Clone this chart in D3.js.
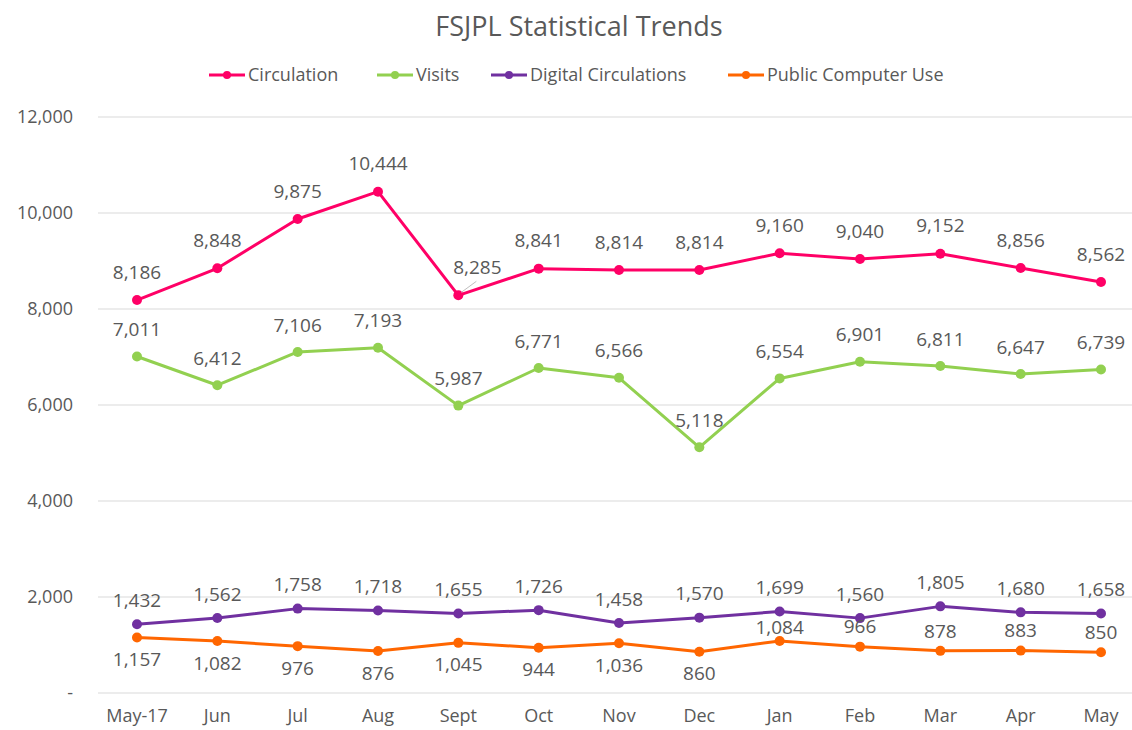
<!DOCTYPE html>
<html>
<head>
<meta charset="utf-8">
<script src="https://cdn.jsdelivr.net/npm/d3@7"></script>
<style>
  body { margin: 0; background: #fff; }
  text { font-family: "Open Sans", "Noto Sans", sans-serif; fill: #595959; }
</style>
</head>
<body>
<script>
// 資料
const months = ["May-17", "Jun", "Jul", "Aug", "Sept", "Oct", "Nov", "Dec", "Jan", "Feb", "Mar", "Apr", "May"];
const circulation = [8186, 8848, 9875, 10444, 8285, 8841, 8814, 8814, 9160, 9040, 9152, 8856, 8562];
const visits = [7011, 6412, 7106, 7193, 5987, 6771, 6566, 5118, 6554, 6901, 6811, 6647, 6739];
const digital = [1432, 1562, 1758, 1718, 1655, 1726, 1458, 1570, 1699, 1560, 1805, 1680, 1658];
const computerUse = [1157, 1082, 976, 876, 1045, 944, 1036, 860, 1084, 966, 878, 883, 850];
const yTicks = [0, 2000, 4000, 6000, 8000, 10000, 12000];

const series = [
  { name: "Circulation", values: circulation, color: "#FF0066" },
  { name: "Visits", values: visits, color: "#92D050" },
  { name: "Digital Circulations", values: digital, color: "#7030A0" },
  { name: "Public Computer Use", values: computerUse, color: "#FF6600" }
];

// 尺寸
const width = 1132, height = 730;
const svg = d3.select("body").append("svg")
  .attr("width", width)
  .attr("height", height);

const x = d3.scalePoint()
  .domain(months)
  .range([137, 1101]);
const y = d3.scaleLinear()
  .domain([0, 12000])
  .range([693, 117]);

// 格線 + y 軸標籤
svg.append("g").selectAll("line")
  .data(yTicks)
  .enter().append("line")
  .attr("x1", 98).attr("x2", width)
  .attr("y1", d => y(d)).attr("y2", d => y(d))
  .attr("stroke", "#d9d9d9")
  .attr("stroke-width", 1);

svg.append("g").selectAll("text")
  .data(yTicks)
  .enter().append("text")
  .attr("x", 73)
  .attr("y", d => y(d))
  .attr("dy", "0.35em")
  .attr("text-anchor", "end")
  .style("font-size", "18px")
  .text(d => d === 0 ? "-" : d3.format(",")(d));

// x 軸標籤
svg.append("g").selectAll("text")
  .data(months)
  .enter().append("text")
  .attr("x", d => x(d))
  .attr("y", 716)
  .attr("dy", "0.35em")
  .attr("text-anchor", "middle")
  .style("font-size", "18px")
  .text(d => d);

// 線條
const line = d3.line()
  .x((d, i) => x(months[i]))
  .y(d => y(d));

series.forEach(s => {
  svg.append("path")
    .datum(s.values)
    .attr("d", line)
    .attr("fill", "none")
    .attr("stroke", s.color)
    .attr("stroke-width", 3)
    .attr("stroke-linejoin", "round");
  svg.append("g").selectAll("circle")
    .data(s.values)
    .enter().append("circle")
    .attr("cx", (d, i) => x(months[i]))
    .attr("cy", d => y(d))
    .attr("r", 5)
    .attr("fill", s.color);
});

// 資料標籤
const fmt = d3.format(",");
function labels(values, offsetFn, dxFn) {
  svg.append("g").selectAll("text")
    .data(values)
    .enter().append("text")
    .attr("x", (d, i) => x(months[i]) + (dxFn ? dxFn(i) : 0))
    .attr("y", (d, i) => y(d) + offsetFn(i))
    .attr("dy", "0.35em")
    .attr("text-anchor", "middle")
    .style("font-size", "19px")
    .text(d => fmt(d));
}
// Sept 的標籤往右上移，加一條引線
labels(circulation, () => -28, i => i === 4 ? 19 : 0);
svg.append("line")
  .attr("x1", x("Sept") + 3).attr("y1", y(8285) - 3)
  .attr("x2", x("Sept") + 18).attr("y2", y(8285) - 14)
  .attr("stroke", "#bfbfbf").attr("stroke-width", 1);
labels(visits, () => -27);
labels(digital, () => -24);
// 前 8 個標籤在下方，其餘在上方
labels(computerUse, i => i < 8 ? 22 : (i === 8 ? -14 : -20));

// 標題
svg.append("text")
  .attr("x", 579)
  .attr("y", 27)
  .attr("dy", "0.35em")
  .attr("text-anchor", "middle")
  .style("font-size", "27px")
  .text("FSJPL Statistical Trends");

// 圖例
const legendX = [209, 377, 491, 728];
const legend = svg.append("g").selectAll("g")
  .data(series)
  .enter().append("g")
  .attr("transform", (d, i) => `translate(${legendX[i]}, 75)`);
legend.append("line")
  .attr("x1", 0).attr("x2", 36)
  .attr("stroke", d => d.color)
  .attr("stroke-width", 3);
legend.append("circle")
  .attr("cx", 18).attr("r", 4)
  .attr("fill", d => d.color);
legend.append("text")
  .attr("x", 39)
  .attr("dy", "0.35em")
  .style("font-size", "18px")
  .text(d => d.name);
</script>
</body>
</html>
